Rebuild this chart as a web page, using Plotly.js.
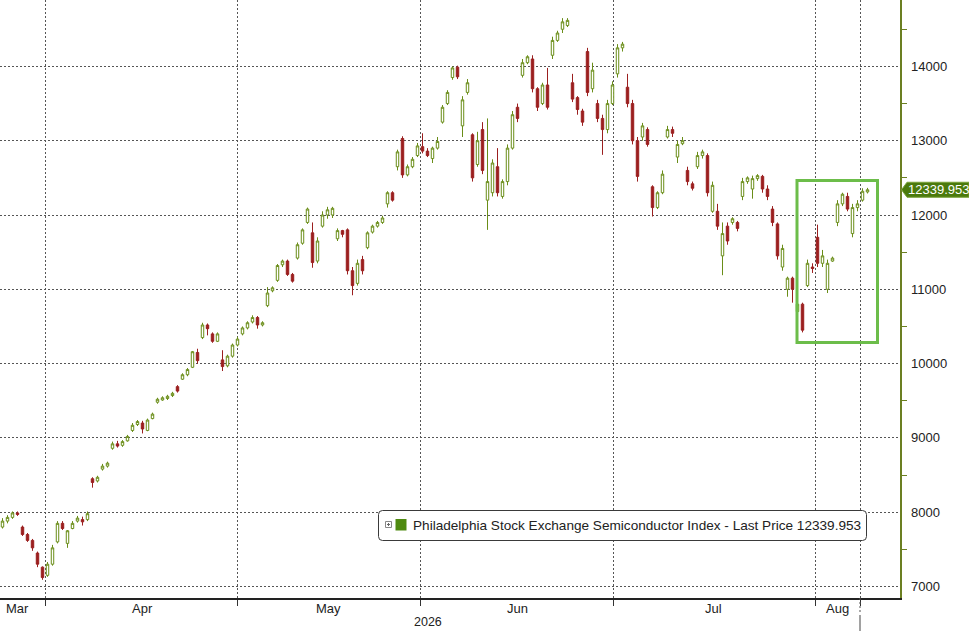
<!DOCTYPE html>
<html>
<head>
<meta charset="utf-8">
<script src="https://cdn.plot.ly/plotly-3.0.1.min.js"></script>
<style>
html,body{margin:0;padding:0;background:#fff;}
#chart{width:969px;height:631px;}
</style>
</head>
<body>
<div id="chart"></div>
<script>
// ---- data ----
const openP = [7800,7880,7930,7990,7800,7700,7620,7450,7260,7150,7300,7600,7850,7580,7780,7880,7900,7900,8450,8420,
8580,8620,8860,8920,8900,8960,9100,9180,9200,9100,9260,9480,9510,9530,9570,9690,9790,9850,9950,10150,
10350,10520,10400,10300,10050,9970,10100,10250,10400,10480,10560,10620,10520,10780,10980,11120,11330,11380,11200,11420,
11620,11900,11760,11380,11850,12000,12000,11680,11790,11800,11250,11080,11400,11560,11770,11850,11900,12150,12300,12650,
13030,12540,12650,12800,12920,12860,12760,12900,13250,13500,13850,13990,13200,13650,13080,12680,13150,12200,12300,12650,
12250,12450,12900,13450,13880,14050,14100,13700,13500,13750,14150,14350,14500,14550,13780,13580,13400,14200,13700,13500,
13300,13150,13500,13900,14250,13720,13500,13000,13050,13150,12380,12100,12300,13050,13150,12780,12960,12600,12420,12650,
12800,12800,12050,12050,11450,11850,11900,11900,12250,12450,12350,12490,12520,12350,12080,11880,11300,11000,11150,10700,
10800,11050,11300,11700,11350,11000,11380,11900,12150,12250,11750,12100,12200,12310];
const highP = [7920,7960,8010,8010,7820,7720,7640,7470,7270,7330,7560,7880,7880,7760,7880,7950,7940,8010,8470,8490,
8650,8680,8950,8960,8970,9040,9200,9240,9230,9260,9340,9540,9560,9580,9620,9710,9870,9940,10170,10200,
10550,10540,10420,10420,10180,10120,10270,10360,10500,10570,10650,10640,10570,11030,11040,11340,11400,11400,11220,11630,
11820,12100,11900,11700,12050,12110,12110,11820,11800,11820,11300,11400,11450,11780,11870,11920,11990,12320,12320,12880,
13060,12680,12780,12970,13100,12900,12920,13050,13480,13680,14000,14010,13600,13830,13100,13120,13250,13300,12750,12900,
12480,12950,13400,13500,14100,14150,14150,13720,13780,13980,14400,14480,14650,14650,13900,13600,13430,14250,14050,13550,
13350,13550,13800,14300,14330,13900,13550,13050,13240,13180,12400,12320,12600,13200,13190,13000,13050,12650,12450,12850,
12880,12830,12450,12150,11900,11900,11970,11920,12500,12520,12530,12550,12540,12400,12120,11900,11600,11170,11170,10820,
10820,11400,11350,11870,11530,11400,11440,12200,12300,12300,12150,12200,12360,12365];
const lowP = [7780,7850,7910,7950,7680,7600,7480,7260,7090,7130,7280,7580,7760,7520,7770,7860,7820,7880,8330,8400,
8560,8600,8840,8870,8880,8950,9080,9160,9060,9090,9250,9460,9500,9510,9550,9610,9780,9830,9940,10000,
10330,10380,10280,10290,9900,9950,10080,10230,10380,10460,10540,10470,10500,10760,10960,11100,11300,11180,11090,11400,
11600,11880,11290,11350,11830,11950,11960,11650,11700,11200,10920,11050,11200,11540,11750,11830,11880,12100,12180,12600,
12500,12520,12630,12780,12830,12780,12700,12880,13230,13480,13820,13830,13050,13620,12450,12650,12550,11800,12250,12250,
12220,12400,12880,13250,13850,14030,13650,13400,13480,13420,14100,14330,14450,14530,13520,13350,13200,13600,13650,13250,
12810,13100,13480,13850,14200,13450,12950,12450,13000,12920,11980,12080,12280,13030,13050,12700,12940,12400,12330,12620,
12760,12250,12030,11800,11190,11600,11870,11780,12200,12420,12220,12460,12300,12200,11850,11400,11250,10900,10820,10550,
10420,11030,11220,11300,11300,10950,11370,11850,12120,12050,11700,12050,12180,12290];
const closeP = [7880,7930,7990,7970,7700,7620,7520,7300,7120,7300,7520,7850,7780,7750,7850,7920,7870,7980,8400,8470,
8620,8660,8920,8890,8950,9020,9170,9220,9120,9240,9320,9520,9540,9560,9600,9630,9850,9920,10160,10040,
10520,10470,10300,10400,9960,10100,10250,10330,10480,10550,10620,10520,10550,10950,11020,11320,11380,11200,11110,11600,
11800,12080,11360,11650,12000,12070,12090,11790,11740,11250,11050,11350,11250,11760,11850,11900,11960,12300,12200,12850,
12540,12650,12750,12930,12860,12800,12900,12990,13450,13650,13980,13860,13550,13780,12500,13000,12600,12450,12700,12300,
12450,12900,13350,13300,14050,14130,13700,13450,13750,13450,14350,14450,14600,14620,13560,13420,13250,13650,13950,13300,
13150,13500,13750,14250,14300,13500,13000,12520,13200,12950,12100,12300,12550,13150,13100,12950,13000,12450,12360,12800,
12850,12300,12400,11850,11750,11650,11950,11820,12450,12500,12490,12530,12350,12250,11900,11450,11550,11150,11000,10800,
10450,11350,11280,11350,11450,11350,11420,12150,12280,12080,12100,12150,12320,12339.953];

const lastPrice = 12339.953;
const seriesName = 'Philadelphia Stock Exchange Semiconductor Index - Last Price';
const yTickVals = [7000,8000,9000,10000,11000,12000,13000,14000];
const yTickText = ['7000','8000','9000','10000','11000','12000','13000','14000'];
const monthBoundaries = [8.5, 46.9, 83.5, 122.1, 162.5, 171.5];
const monthLabels = ['Mar','Apr','May','Jun','Jul','Aug'];
const monthLabelPos = [2.9, 27.9, 65.1, 102.9, 142.1, 166.9];
const yearLabel = '2026';
const yearLabelPos = 85.1;

// ---- chart ----
const xIdx = openP.map((_, i) => i);
const yMin = 6845, yMax = 14894;
const xMin = -0.5, xMax = 179.5;
const red = '#9b1f1f';
const axisGreen = '#6b7f22';
const fontFam = 'Liberation Sans, Arial, sans-serif';

const candle = {
  type: 'candlestick',
  x: xIdx, open: openP, high: highP, low: lowP, close: closeP,
  increasing: {line: {color: '#6a8d18', width: 1}, fillcolor: '#ffffff'},
  decreasing: {line: {color: red, width: 1}, fillcolor: red},
  whiskerwidth: 0,
  hoverinfo: 'skip',
  showlegend: false
};

const tickMarks = {
  type: 'scatter', mode: 'markers',
  x: yTickVals.map(() => xMax + 0.45), y: yTickVals,
  marker: {symbol: 'triangle-right', size: 8, color: axisGreen},
  cliponaxis: false, hoverinfo: 'skip', showlegend: false
};

const H = 598, W = 900;
const px = v => v / W;            // pixel -> paper x
const py = v => (H - v) / H;      // pixel -> paper y
const lastYp = (lastPrice - yMin) / (yMax - yMin);
const halfTag = 7.5 / H;

function roundRect(x0, y0, x1, y1, r) {
  const X0 = px(x0), X1 = px(x1), Y0 = py(y0), Y1 = py(y1);
  const rx = r / W, ry = r / H;
  return `M ${X0 + rx},${Y0} L ${X1 - rx},${Y0} Q ${X1},${Y0} ${X1},${Y0 - ry} L ${X1},${Y1 + ry} Q ${X1},${Y1} ${X1 - rx},${Y1} L ${X0 + rx},${Y1} Q ${X0},${Y1} ${X0},${Y1 + ry} L ${X0},${Y0 - ry} Q ${X0},${Y0} ${X0 + rx},${Y0} Z`;
}

const shapes = [
  {type: 'rect', xref: 'x', yref: 'y', x0: 158.9, x1: 175.0, y0: 10284, y1: 12464,
   line: {color: '#6cbd4a', width: 3}, fillcolor: 'rgba(0,0,0,0)'},
  {type: 'path', xref: 'paper', yref: 'paper', path: roundRect(378.5, 510.5, 866.5, 540.5, 4),
   line: {color: '#3a3a3a', width: 1}, fillcolor: '#ffffff'},
  {type: 'rect', xref: 'paper', yref: 'paper', x0: px(385.5), x1: px(391.5), y0: py(527.5), y1: py(521.5),
   line: {color: '#888', width: 1}, fillcolor: '#fff'},
  {type: 'line', xref: 'paper', yref: 'paper', x0: px(387), x1: px(390), y0: py(524.5), y1: py(524.5),
   line: {color: '#666', width: 1}},
  {type: 'line', xref: 'paper', yref: 'paper', x0: px(388.5), x1: px(388.5), y0: py(523), y1: py(526),
   line: {color: '#666', width: 1}},
  {type: 'rect', xref: 'paper', yref: 'paper', x0: px(395.5), x1: px(406.5), y0: py(530.5), y1: py(519),
   line: {width: 0}, fillcolor: '#4f8a10'},
  {type: 'path', xref: 'paper', yref: 'paper',
   path: `M ${px(901.5)},${lastYp} L ${px(907)},${lastYp + halfTag} L ${px(969)},${lastYp + halfTag} L ${px(969)},${lastYp - halfTag} L ${px(907)},${lastYp - halfTag} Z`,
   line: {color: '#79a33a', width: 1}, fillcolor: '#4b7a0c'},
  {type: 'line', xref: 'x', yref: 'paper', x0: monthBoundaries[5], x1: monthBoundaries[5], y0: py(598), y1: py(613),
   line: {color: '#555', width: 1, dash: '2px,2px'}},
  {type: 'line', xref: 'x', yref: 'paper', x0: monthBoundaries[5], x1: monthBoundaries[5], y0: py(615), y1: py(631),
   line: {color: '#444', width: 1}}
];

const annotations = monthLabels.map((t, i) => ({
  text: t, x: monthLabelPos[i], xref: 'x', y: py(608), yref: 'paper',
  showarrow: false, xanchor: 'center', yanchor: 'middle',
  font: {family: fontFam, size: 13, color: '#222'}
}));
annotations.push({
  text: yearLabel, x: yearLabelPos, xref: 'x', y: py(622), yref: 'paper',
  showarrow: false, xanchor: 'center', yanchor: 'middle',
  font: {family: fontFam, size: 12.5, color: '#222'}
});
annotations.push({
  text: seriesName + ' ' + lastPrice.toFixed(3), x: px(411), xref: 'paper', y: py(525.5), yref: 'paper',
  showarrow: false, xanchor: 'left', yanchor: 'middle',
  font: {family: fontFam, size: 13.6, color: '#222'}
});
annotations.push({
  text: lastPrice.toFixed(3), x: px(938), xref: 'paper', y: lastYp, yref: 'paper',
  showarrow: false, xanchor: 'center', yanchor: 'middle',
  font: {family: fontFam, size: 13, color: '#ffffff'}
});

const layout = {
  width: 969, height: 631,
  margin: {l: 0, r: 69, t: 0, b: 33, pad: 0},
  paper_bgcolor: '#ffffff', plot_bgcolor: '#ffffff',
  showlegend: false,
  xaxis: {
    range: [xMin, xMax], rangeslider: {visible: false},
    tickvals: monthBoundaries, ticktext: monthBoundaries.map(() => ''),
    ticks: 'outside', ticklen: 6, tickcolor: '#333',
    showgrid: true, gridcolor: '#555', griddash: '2px,2px', gridwidth: 1,
    showline: true, linecolor: '#222', linewidth: 1.5,
    zeroline: false, fixedrange: true
  },
  yaxis: {
    side: 'right', range: [yMin, yMax],
    tickvals: yTickVals, ticktext: yTickText,
    ticks: 'outside', ticklen: 7, tickcolor: 'rgba(0,0,0,0)',
    minor: {tickvals: [7500,8500,9500,10500,11500,12500,13500,14500], ticks: 'outside', ticklen: 5, tickcolor: axisGreen, showgrid: false},
    showgrid: true, gridcolor: '#555', griddash: '2px,2px', gridwidth: 1,
    showline: true, linecolor: axisGreen, linewidth: 1.5,
    zeroline: false, fixedrange: true,
    tickfont: {family: fontFam, size: 13, color: '#222'}
  },
  shapes: shapes,
  annotations: annotations
};

Plotly.newPlot('chart', [candle, tickMarks], layout, {staticPlot: true, displayModeBar: false});
</script>
</body>
</html>
